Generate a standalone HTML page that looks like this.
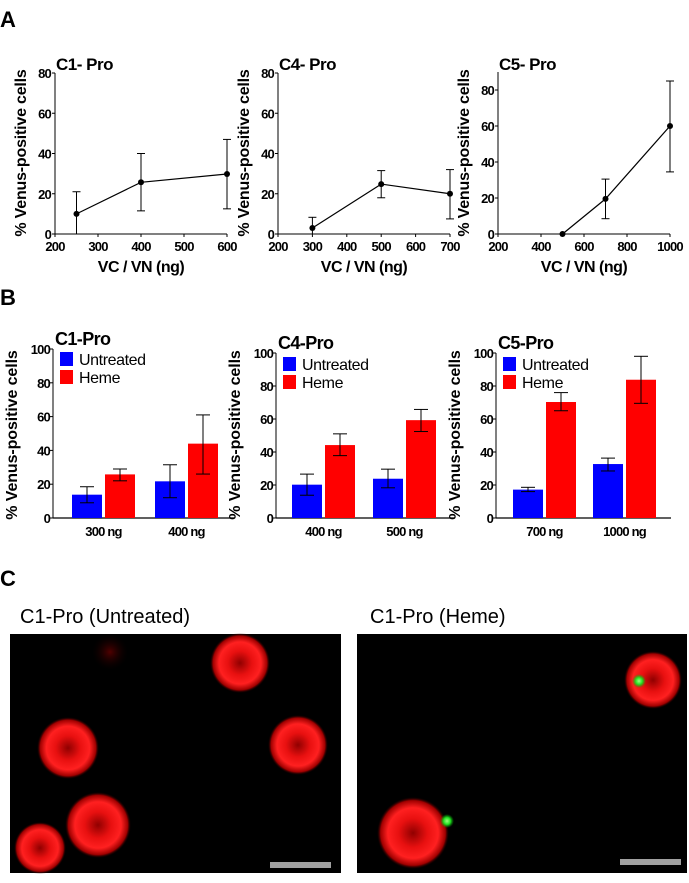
<!DOCTYPE html>
<html><head><meta charset="utf-8"><style>
body{margin:0;background:#fff;}
svg{display:block;font-family:"Liberation Sans",Arial,sans-serif;}
</style></head><body>
<svg id="fig" width="689" height="883" viewBox="0 0 689 883" xmlns="http://www.w3.org/2000/svg">
<defs>
<radialGradient id="rb"><stop offset="0" stop-color="#900000"/><stop offset="0.4" stop-color="#e81010"/><stop offset="0.7" stop-color="#ff2020"/><stop offset="0.9" stop-color="#a00000"/><stop offset="1" stop-color="#200000" stop-opacity="0"/></radialGradient>
<radialGradient id="gd"><stop offset="0" stop-color="#a0ff80"/><stop offset="0.5" stop-color="#20e020"/><stop offset="1" stop-color="#00a000" stop-opacity="0"/></radialGradient>
<radialGradient id="rf"><stop offset="0" stop-color="#500000"/><stop offset="1" stop-color="#100000" stop-opacity="0"/></radialGradient>
</defs>
<text x="0" y="27" font-size="22" font-weight="bold">A</text>
<text x="0" y="305" font-size="22" font-weight="bold">B</text>
<text x="0" y="586" font-size="22" font-weight="bold">C</text>
<g id="charts"></g>
<text x="20" y="623" font-size="20">C1-Pro (Untreated)</text>
<text x="370" y="623" font-size="20">C1-Pro (Heme)</text>
<g>
<rect x="10" y="634" width="331" height="239" fill="#000"/>
<circle cx="110" cy="652" r="18" fill="url(#rf)"/>
<circle cx="240" cy="663" r="30" fill="url(#rb)"/>
<circle cx="298" cy="745" r="30" fill="url(#rb)"/>
<circle cx="68" cy="748" r="31" fill="url(#rb)"/>
<circle cx="98" cy="825" r="33" fill="url(#rb)"/>
<circle cx="40" cy="848" r="26" fill="url(#rb)"/>
<rect x="270" y="862" width="61" height="6" fill="#a0a0a0"/>
</g>
<g>
<rect x="357" y="634" width="330" height="239" fill="#000"/>
<circle cx="653" cy="680" r="29" fill="url(#rb)"/>
<circle cx="413" cy="833" r="36" fill="url(#rb)"/>
<circle cx="639" cy="681" r="7" fill="url(#gd)"/>
<circle cx="447" cy="821" r="7" fill="url(#gd)"/>
<rect x="620" y="859" width="61" height="6" fill="#a0a0a0"/>
</g>
</svg>
<script>
// Panel A data
const aTitles=["C1- Pro","C4- Pro","C5- Pro"];
const aX=[[250,400,600],[300,500,700],[500,700,1000]];
const aY=[[10,25.7,29.8],[3,24.8,20],[0,19.5,60]];
const aLo=[[0,11.5,12.5],[0,18,7.5],[0,8.5,34.5]];
const aHi=[[21,40,47],[8.3,31.5,32],[0,30.5,85]];
const aXTicks=[[200,300,400,500,600],[200,300,400,500,600,700],[200,400,600,800,1000]];
const aYTicks=[[0,20,40,60,80],[0,20,40,60,80],[0,20,40,60,80]];
const aYMax=[80,80,90];
// Panel B data
const bTitles=["C1-Pro","C4-Pro","C5-Pro"];
const bCats=[["300 ng","400 ng"],["400 ng","500 ng"],["700 ng","1000 ng"]];
const bUnt=[[13.8,21.7],[20.2,23.8],[17.2,32.7]];
const bUntLo=[[9,12],[13.8,18.3],[16,28.5]];
const bUntHi=[[18.5,31.5],[26.6,29.6],[18.6,36.3]];
const bHeme=[[25.8,44],[44.2,59.3],[70.3,83.8]];
const bHemeLo=[[22,26],[37.8,52.4],[65,69.5]];
const bHemeHi=[[29,61],[51,65.8],[76,98]];
const bYTicks=[0,20,40,60,80,100];

const NS="http://www.w3.org/2000/svg";
const root=document.getElementById('charts');
function mk(tag,at,parent,txt){const e=document.createElementNS(NS,tag);for(const k in at)e.setAttribute(k,at[k]);if(txt!==undefined)e.textContent=txt;(parent||root).appendChild(e);return e;}

const TK={'font-size':13,'font-weight':'bold','letter-spacing':'-0.8'};
function tk(o){return Object.assign({},TK,o);}

// Panel A layout
const aAx=[55,278,498], aRight=[227,450,670], aXmin=[200,200,200], aXmax=[600,700,1000];
for(let p=0;p<3;p++){
  const g=mk('g',{});
  
  
  const y0=234, ytop=(p==2)?72:73;
  const sy=v=>y0-(v/aYMax[p])*(y0-ytop);
  const sx=v=>aAx[p]+(v-aXmin[p])/(aXmax[p]-aXmin[p])*(aRight[p]-aAx[p]);
  const t=mk('text',{x:aAx[p]+1,y:70,'font-size':17,'font-weight':'bold','letter-spacing':'-0.5'},g,aTitles[p]);
  
  mk('line',{x1:aAx[p],y1:ytop,x2:aAx[p],y2:y0,stroke:'#000','stroke-width':1},g);
  mk('line',{x1:aAx[p],y1:y0,x2:aRight[p],y2:y0,stroke:'#000','stroke-width':1},g);
  aYTicks[p].forEach(v=>{mk('line',{x1:aAx[p]-3,x2:aAx[p],y1:sy(v),y2:sy(v),stroke:'#000'},g);
    const l=mk('text',tk({x:aAx[p]-4,y:sy(v)+5,'text-anchor':'end'}),g,v);
    });
  aXTicks[p].forEach(v=>{mk('line',{x1:sx(v),x2:sx(v),y1:y0,y2:y0+3,stroke:'#000'},g);
    const l=mk('text',tk({x:sx(v),y:y0+17,'text-anchor':'middle'}),g,v);
    });
  const xl=mk('text',{x:(aAx[p]+aRight[p])/2,y:272,'font-size':16,'font-weight':'bold','text-anchor':'middle','letter-spacing':'-0.5'},g,'VC / VN (ng)');
  
  const cx=aAx[p]-29, cy=153;
  const yl=mk('text',{x:cx,y:cy,'font-size':16,'font-weight':'bold','text-anchor':'middle','letter-spacing':'-0.2',transform:`rotate(-90 ${cx} ${cy})`},g,'% Venus-positive cells');
  
  const pts=aX[p].map((x,i)=>sx(x)+','+sy(aY[p][i])).join(' ');
  const pl=mk('polyline',{points:pts,fill:'none',stroke:'#000','stroke-width':1.2},g);
  
  aX[p].forEach((x,i)=>{
    const X=sx(x);
    if(aHi[p][i]>aY[p][i]){mk('line',{x1:X,x2:X,y1:sy(aLo[p][i]),y2:sy(aHi[p][i]),stroke:'#000'},g);
      mk('line',{x1:X-4,x2:X+4,y1:sy(aHi[p][i]),y2:sy(aHi[p][i]),stroke:'#000'},g);
      if(aLo[p][i]>0)mk('line',{x1:X-4,x2:X+4,y1:sy(aLo[p][i]),y2:sy(aLo[p][i]),stroke:'#000'},g);}
    const c=mk('circle',{cx:X,cy:sy(aY[p][i]),r:3,fill:'#000'},g);
    
  });
}

// Panel B layout
const bAx=[53,276,496], bRight=[234,455,671], bTop=[349,353,353];
const bUntX=[[72,155],[292,373],[513,593]], bW=30, bGap=33;
for(let p=0;p<3;p++){
  const g=mk('g',{});
  
  
  const y0=518;
  const sy=v=>y0-(v/100)*(y0-bTop[p]);
  const t=mk('text',{x:bAx[p]+2,y:(p==0)?345:349,'font-size':18,'font-weight':'bold','letter-spacing':'-0.6'},g,bTitles[p]);
  
  mk('line',{x1:bAx[p],y1:bTop[p],x2:bAx[p],y2:y0,stroke:'#000'},g);
  mk('line',{x1:bAx[p],y1:y0,x2:bRight[p],y2:y0,stroke:'#000','stroke-width':1.3},g);
  bYTicks.forEach(v=>{mk('line',{x1:bAx[p]-3,x2:bAx[p],y1:sy(v),y2:sy(v),stroke:'#000'},g);
    const l=mk('text',tk({x:bAx[p]-3,y:sy(v)+5,'text-anchor':'end'}),g,v);
    });
  const cx=bAx[p]-36, cy=435;
  const yl=mk('text',{x:cx,y:cy,'font-size':16,'font-weight':'bold','text-anchor':'middle','letter-spacing':'-0.1',transform:`rotate(-90 ${cx} ${cy})`},g,'% Venus-positive cells');
  
  bCats[p].forEach((c,i)=>{
    const ux=bUntX[p][i], hx=ux+bGap;
    const b1=mk('rect',{x:ux,y:sy(bUnt[p][i]),width:bW,height:y0-sy(bUnt[p][i]),fill:'#0000ff'},g);
    
    const b2=mk('rect',{x:hx,y:sy(bHeme[p][i]),width:bW,height:y0-sy(bHeme[p][i]),fill:'#ff0000'},g);
    
    [[ux,bUntLo[p][i],bUntHi[p][i]],[hx,bHemeLo[p][i],bHemeHi[p][i]]].forEach(([x,lo,hi])=>{
      const X=x+bW/2;
      mk('line',{x1:X,x2:X,y1:sy(lo),y2:sy(hi),stroke:'#000'},g);
      mk('line',{x1:X-7,x2:X+7,y1:sy(lo),y2:sy(lo),stroke:'#000'},g);
      mk('line',{x1:X-7,x2:X+7,y1:sy(hi),y2:sy(hi),stroke:'#000'},g);
    });
    const l=mk('text',tk({x:hx-1.5,y:536,'text-anchor':'middle'}),g,c);
    
  });
  const ly=(p==0)?352:357;
  const lg=mk('g',{},g);
  
  mk('rect',{x:bAx[p]+7,y:ly,width:13,height:14,fill:'#0000ff'},lg);
  mk('text',{x:bAx[p]+26,y:ly+13,'font-size':16,'letter-spacing':'-0.4'},lg,'Untreated');
  mk('rect',{x:bAx[p]+7,y:ly+18,width:13,height:14,fill:'#ff0000'},lg);
  mk('text',{x:bAx[p]+26,y:ly+31,'font-size':16,'letter-spacing':'-0.4'},lg,'Heme');
}
</script>
</body></html>
